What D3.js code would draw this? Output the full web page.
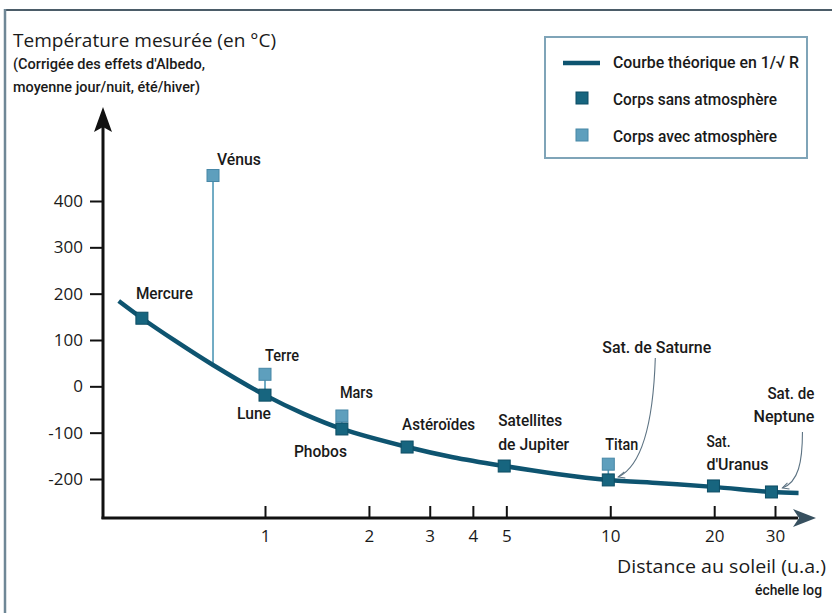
<!DOCTYPE html>
<html><head><meta charset="utf-8">
<script src="https://cdn.jsdelivr.net/npm/d3@7"></script>
<style>
body{margin:0;background:#fff;}
svg{display:block;}
.cond{font-family:"Roboto","Open Sans",sans-serif;font-weight:500;fill:#1a1a1a;}
.reg{font-family:"Open Sans","Noto Sans",sans-serif;fill:#1a1a1a;}
</style>
</head><body>
<script>
// ---------- data ----------
const yTicks = [400, 300, 200, 100, 0, -100, -200];
const xTicks = [1, 2, 3, 4, 5, 10, 20, 30];

// theoretical curve
const theoryDist = [0.377, 0.44, 0.55, 0.707, 1, 1.3, 1.67, 2.58, 3.5, 4.93, 7, 9.87, 14, 19.9, 29.3, 35.1];
const theoryTemp = [184, 147, 98, 46, -19, -60, -92, -131, -153, -172, -189, -202, -209, -217, -228, -230];

// bodies without atmosphere
const noAtmNames = ["Mercure", "Lune", "Phobos", "Astéroïdes", "Satellites de Jupiter", "Sat. de Saturne", "Sat. d'Uranus", "Sat. de Neptune"];
const noAtmDist  = [0.44, 1, 1.67, 2.58, 4.93, 9.87, 19.9, 29.3];
const noAtmTemp  = [147, -19, -92, -131, -172, -202, -215, -228];

// bodies with atmosphere
const atmNames = ["Vénus", "Terre", "Mars", "Titan"];
const atmDist  = [0.707, 1, 1.67, 9.87];
const atmTemp  = [455, 26, -64, -168];
const atmTheory = [46, -19, -92, -202]; // theoretical value at same distance

const legendLabels = ["Courbe théorique en 1/√ R", "Corps sans atmosphère", "Corps avec atmosphère"];

// ---------- drawing ----------
const W = 832, H = 613;
const svg = d3.select("body").append("svg").attr("width", W).attr("height", H);

const x = d3.scaleLog().domain([1, 30]).range([265, 775]);
const y = d3.scaleLinear().domain([-200, 400]).range([479, 201]);
const axisX0 = 103, axisY0 = 518;

const cDark = "#17657f", cDarkS = "#0d4d64", cLight = "#5e9fbd", cLightS = "#4787a6", cCurve = "#0e5470";

// frame
svg.append("line").attr("x1", 5).attr("x2", W).attr("y1", 10).attr("y2", 10).attr("stroke", "#4b5c68").attr("stroke-width", 2);
svg.append("line").attr("x1", 5).attr("x2", 5).attr("y1", 9).attr("y2", H).attr("stroke", "#6f8796").attr("stroke-width", 2.5);

// title
svg.append("text").attr("class", "reg").attr("x", 13).attr("y", 47).attr("font-size", 18.5)
  .attr("textLength", 263).attr("lengthAdjust", "spacingAndGlyphs").text("Température mesurée (en °C)");
svg.append("text").attr("class", "cond").attr("x", 13).attr("y", 69).attr("font-size", 15)
  .attr("textLength", 192).attr("lengthAdjust", "spacingAndGlyphs").text("(Corrigée des effets d'Albedo,");
svg.append("text").attr("class", "cond").attr("x", 13).attr("y", 92).attr("font-size", 15)
  .attr("textLength", 187).attr("lengthAdjust", "spacingAndGlyphs").text("moyenne jour/nuit, été/hiver)");

// y axis
const yAxis = d3.axisLeft(y).tickValues(yTicks).tickSize(13).tickPadding(7).tickFormat(d3.format("d"));
const gy = svg.append("g").attr("transform", `translate(${axisX0},0)`).call(yAxis);
gy.select(".domain").remove();
gy.selectAll(".tick line").attr("stroke", "#111").attr("stroke-width", 2);
gy.selectAll(".tick text").attr("class", "reg").attr("font-size", 17).attr("fill", "#1a1a1a")
  .text(d => d < 0 ? "-" + Math.abs(d) : d);
svg.append("line").attr("x1", axisX0).attr("x2", axisX0).attr("y1", axisY0 + 1).attr("y2", 125).attr("stroke", "#111").attr("stroke-width", 3);
svg.append("path").attr("d", `M${axisX0},107 L${axisX0 + 9},132 L${axisX0},127 L${axisX0 - 9},132 Z`).attr("fill", "#111");

// x axis
const xAxis = d3.axisBottom(x).tickValues(xTicks).tickSizeInner(-12).tickSizeOuter(0).tickPadding(12).tickFormat(d3.format("d"));
const gx = svg.append("g").attr("transform", `translate(0,${axisY0})`).call(xAxis);
gx.select(".domain").remove();
gx.selectAll(".tick line").attr("stroke", "#111").attr("stroke-width", 2);
gx.selectAll(".tick text").attr("class", "reg").attr("font-size", 17).attr("fill", "#1a1a1a");
svg.append("line").attr("x1", axisX0 - 1.5).attr("x2", 798).attr("y1", axisY0).attr("y2", axisY0).attr("stroke", "#111").attr("stroke-width", 3);
svg.append("path").attr("d", `M816,${axisY0} L793,${axisY0 - 9} L799,${axisY0} L793,${axisY0 + 9} Z`).attr("fill", "#37505f");

// x axis title
svg.append("text").attr("class", "reg").attr("x", 826).attr("y", 573).attr("text-anchor", "end").attr("font-size", 17.5)
  .attr("textLength", 209).attr("lengthAdjust", "spacingAndGlyphs").text("Distance au soleil (u.a.)");
svg.append("text").attr("class", "cond").attr("x", 822).attr("y", 595).attr("text-anchor", "end").attr("font-size", 14.5)
  .attr("textLength", 67).attr("lengthAdjust", "spacingAndGlyphs").text("échelle log");

// connectors for atmosphere bodies
svg.selectAll(".conn").data(atmNames).enter().append("line")
  .attr("x1", (d, i) => x(atmDist[i])).attr("x2", (d, i) => x(atmDist[i]))
  .attr("y1", (d, i) => y(atmTemp[i])).attr("y2", (d, i) => y(atmTheory[i]))
  .attr("stroke", "#4f98b6").attr("stroke-width", 1.6);

// theoretical curve
const curvePts = theoryDist.map((d, i) => [x(d), y(theoryTemp[i])]);
svg.append("path").attr("d", d3.line().curve(d3.curveCatmullRom)(curvePts))
  .attr("fill", "none").attr("stroke", cCurve).attr("stroke-width", 4.5).attr("stroke-linecap", "butt");

// squares
const S = 12;
svg.selectAll(".sq1").data(noAtmNames).enter().append("rect")
  .attr("x", (d, i) => x(noAtmDist[i]) - S / 2).attr("y", (d, i) => y(noAtmTemp[i]) - S / 2)
  .attr("width", S).attr("height", S).attr("fill", cDark).attr("stroke", cDarkS).attr("stroke-width", 1);
svg.selectAll(".sq2").data(atmNames).enter().append("rect")
  .attr("x", (d, i) => x(atmDist[i]) - S / 2).attr("y", (d, i) => y(atmTemp[i]) - S / 2)
  .attr("width", S).attr("height", S).attr("fill", cLight).attr("stroke", cLightS).attr("stroke-width", 1);

// labels placed relative to their marker
function lab(lines, d, t, dx, dy, widths, anchor) {
  const px = x(d), py = y(t);
  lines.forEach((s, k) => {
    svg.append("text").attr("class", "cond").attr("x", px + dx).attr("y", py + dy + k * 23.5)
      .attr("font-size", 16.5).attr("text-anchor", anchor || "start")
      .attr("textLength", widths[k]).attr("lengthAdjust", "spacingAndGlyphs").text(s);
  });
}
lab(["Vénus"], atmDist[0], atmTemp[0], 4, -11, [44]);
lab(["Mercure"], noAtmDist[0], noAtmTemp[0], -6, -19, [57]);
lab(["Terre"], atmDist[1], atmTemp[1], 0, -13, [34]);
lab(["Lune"], noAtmDist[1], noAtmTemp[1], -28, 24, [34]);
lab(["Mars"], atmDist[2], atmTemp[2], -2, -18, [33]);
lab(["Phobos"], noAtmDist[2], noAtmTemp[2], -48, 28, [53]);
lab(["Astéroïdes"], noAtmDist[3], noAtmTemp[3], -5, -17, [73]);
lab(["Satellites", "de Jupiter"], noAtmDist[4], noAtmTemp[4], -6, -40, [64, 71]);
lab(["Titan"], atmDist[3], atmTemp[3], -3, -14, [33]);
lab(["Sat.", "d'Uranus"], noAtmDist[6], noAtmTemp[6], -7, -39, [24, 62]);
lab(["Sat. de", "Neptune"], noAtmDist[7], noAtmTemp[7], 43, -93, [47, 61], "end");
lab(["Sat. de  Saturne"], noAtmDist[5], noAtmTemp[5], -6, -127, [109]);

// pointer lines
function pointer(d, t, path) {
  const px = x(d), py = y(t);
  svg.append("path").attr("d", path(px, py)).attr("fill", "none").attr("stroke", "#5d7383").attr("stroke-width", 1.1);
}
pointer(noAtmDist[5], noAtmTemp[5], (px, py) => `M${px + 47},${py - 122} C${px + 45},${py - 60} ${px + 35},${py - 15} ${px + 10},${py - 3}`);
pointer(noAtmDist[5], noAtmTemp[5], (px, py) => `M${px + 16},${py - 8} L${px + 10},${py - 3} L${px + 17},${py - 2}`);
pointer(noAtmDist[7], noAtmTemp[7], (px, py) => `M${px + 31},${py - 60} C${px + 31},${py - 30} ${px + 27},${py - 10} ${px + 11},${py - 4}`);
pointer(noAtmDist[7], noAtmTemp[7], (px, py) => `M${px + 16},${py - 9} L${px + 11},${py - 4} L${px + 18},${py - 3}`);

// legend
const lg = svg.append("g");
lg.append("rect").attr("x", 545).attr("y", 37).attr("width", 262).attr("height", 121)
  .attr("fill", "#fff").attr("stroke", "#7fa4b8").attr("stroke-width", 2);
lg.append("line").attr("x1", 563).attr("x2", 600).attr("y1", 63).attr("y2", 63).attr("stroke", cCurve).attr("stroke-width", 4.5);
lg.append("rect").attr("x", 582 - S / 2).attr("y", 98 - S / 2).attr("width", S).attr("height", S).attr("fill", cDark).attr("stroke", cDarkS);
lg.append("rect").attr("x", 582 - S / 2).attr("y", 135 - S / 2).attr("width", S).attr("height", S).attr("fill", cLight).attr("stroke", cLightS);
const lgW = [186, 164, 164], lgY = [68, 105, 142];
legendLabels.forEach((s, i) => {
  lg.append("text").attr("class", "cond").attr("x", 613).attr("y", lgY[i]).attr("font-size", 17)
    .attr("textLength", lgW[i]).attr("lengthAdjust", "spacingAndGlyphs").text(s);
});
</script>
</body></html>
